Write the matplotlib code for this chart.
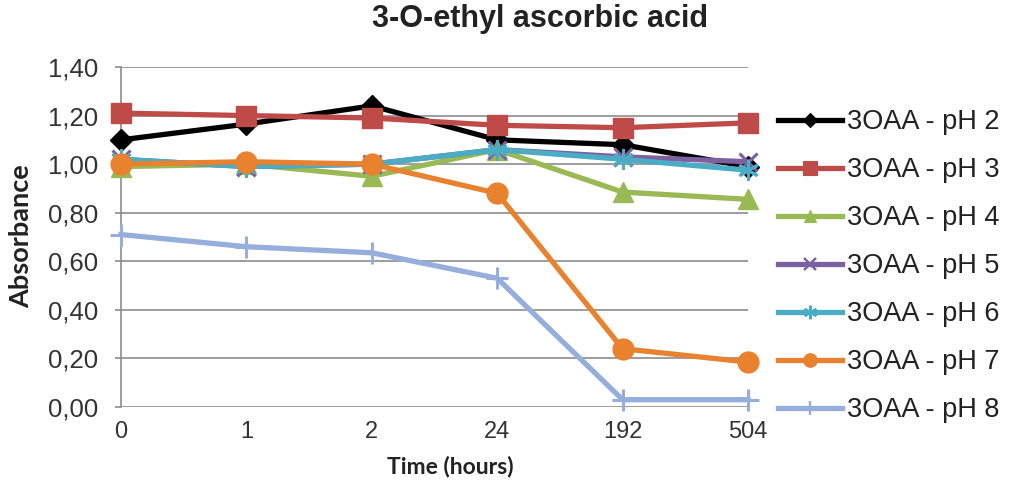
import matplotlib
matplotlib.use("Agg")
import matplotlib.pyplot as plt
from matplotlib.lines import Line2D

plt.rcParams['font.family'] = ['Liberation Sans', 'DejaVu Sans']

categories = ["0", "1", "2", "24", "192", "504"]
series_names = ["3OAA - pH 2", "3OAA - pH 3", "3OAA - pH 4", "3OAA - pH 5",
                "3OAA - pH 6", "3OAA - pH 7", "3OAA - pH 8"]
ph2 = [1.10, 1.165, 1.24, 1.10, 1.08, 0.99]
ph3 = [1.21, 1.20, 1.19, 1.16, 1.15, 1.17]
ph4 = [0.99, 1.00, 0.95, 1.06, 0.885, 0.855]
ph5 = [1.02, 0.99, 1.00, 1.06, 1.03, 1.01]
ph6 = [1.02, 0.99, 1.00, 1.06, 1.02, 0.975]
ph7 = [1.00, 1.01, 1.00, 0.88, 0.24, 0.185]
ph8 = [0.71, 0.66, 0.635, 0.53, 0.03, 0.03]
yticks = [0.0, 0.2, 0.4, 0.6, 0.8, 1.0, 1.2, 1.4]

data = [ph2, ph3, ph4, ph5, ph6, ph7, ph8]
colors = ["#000000", "#BE4B48", "#98B954", "#7D60A0", "#4BACC6", "#E8822E", "#95AEDB"]
markers = ["D", "s", "^", "x", (6, 2, 0), "o", "+"]
msizes = [11, 15, 14, 13, 15, 15, 16]

W, H = 1014, 486
fig = plt.figure(figsize=(W / 100, H / 100), dpi=100)
left, right, top, bottom = 121, 748, 67, 407
ax = fig.add_axes([left / W, 1 - bottom / H, (right - left) / W, (bottom - top) / H])

x = list(range(len(categories)))
handles = []
for vals, c, m, ms, name in zip(data, colors, markers, msizes, series_names):
    mew = 2.2 if m in ("x", "+") or isinstance(m, tuple) else 1
    ax.plot(x, vals, color=c, lw=3.8, marker=m, ms=ms, mec=c, mfc=c, mew=mew,
            clip_on=False, solid_joinstyle='round', zorder=3)
    handles.append(Line2D([0], [0], color=c, lw=3.8, marker=m, ms=ms * 0.65,
                          mec=c, mfc=c, mew=mew * 0.8, label=name))

ax.set_xlim(0, len(categories) - 1)
ax.set_ylim(0, 1.4)
ax.set_yticks(yticks)
ax.set_yticklabels([f"{t:.2f}".replace(".", ",") for t in yticks])
ax.set_xticks(x)
ax.set_xticklabels(categories)
ax.yaxis.grid(True, color="#8C8C8C", lw=1.2)
ax.set_axisbelow(True)
for s in ["top", "right", "bottom"]:
    ax.spines[s].set_visible(False)
ax.spines["left"].set_color("#8C8C8C")
ax.spines["left"].set_linewidth(1.2)
ax.tick_params(axis="y", length=4.5, color="#8C8C8C", width=1.2, labelsize=18.5,
               labelcolor="#333333", pad=12)
ax.tick_params(axis="x", length=0, labelsize=17, labelcolor="#333333", pad=10)

fig.text(540 / W, 1 - 19 / H, "3-O-ethyl ascorbic acid", ha="center", va="center",
         fontsize=22, fontweight="bold", color="#222222")
fig.text(21 / W, 1 - 236 / H, "Absorbance", rotation=90, ha="center", va="center",
         fontsize=19.5, fontweight="bold", color="#222222", family="Lato")
fig.text(450 / W, 1 - 466 / H, "Time (hours)", ha="center", va="center",
         fontsize=16.5, fontweight="bold", color="#222222", family="Lato")

leg = fig.legend(handles=handles, loc="upper left", bbox_to_anchor=(778 / W, 1 - 109 / H),
                 frameon=False, fontsize=19.5, handlelength=2.35, labelspacing=0.815,
                 handletextpad=0.2, borderaxespad=0, borderpad=0)
for t in leg.get_texts():
    t.set_color("#222222")

fig.savefig("out.png", dpi=100)
